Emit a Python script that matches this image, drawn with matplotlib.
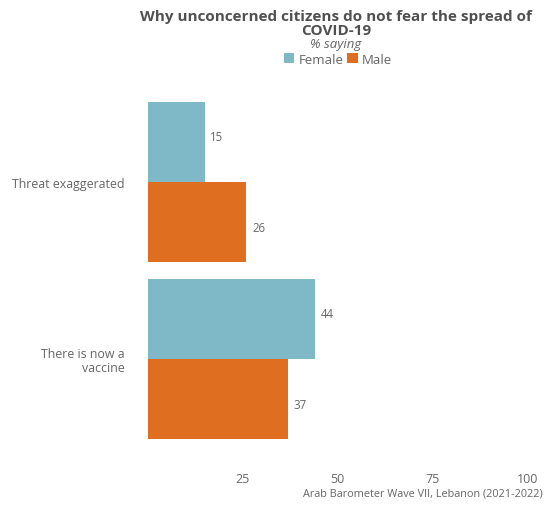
import numpy as np
import matplotlib.pyplot as plt

categories = ["Threat exaggerated", "There is now a\nvaccine"]
female = [15, 44]
male = [26, 37]
xticks = [25, 50, 75, 100]

plt.rcParams['font.family'] = ['Open Sans', 'DejaVu Sans']

W, H = 547, 506
fig = plt.figure(figsize=(W / 100, H / 100), dpi=100)

# axes placed in pixel terms (3.8 px per unit on x)
left, top, bottom = 147.5, 85, 445
xmax = 102
right = left + 3.8 * xmax
ax = fig.add_axes([left / W, 1 - bottom / H, (right - left) / W, (bottom - top) / H])

y = np.arange(len(categories))
h = 80 / 177
ax.barh(y - h / 2, female, height=h, color='#7fb9c7', label='Female')
ax.barh(y + h / 2, male, height=h, color='#e06e20', label='Male')

for yi, v in zip(y - h / 2, female):
    ax.text(v + 1.5, yi - 0.03, f"{v}", va='center', ha='left', fontsize=8.3, color='#666666')
for yi, v in zip(y + h / 2, male):
    ax.text(v + 1.5, yi + 0.03, f"{v}", va='center', ha='left', fontsize=8.3, color='#666666')

ax.set_xlim(0, xmax)
ax.set_ylim((bottom - 183) / 177, (top - 183) / 177)
ax.set_yticks(y)
ax.set_yticklabels(categories, fontsize=8.9, color='#666666', ha='right', linespacing=1.0)
ax.set_xticks(xticks)
ax.set_xticklabels([str(t) for t in xticks], fontsize=8.9, color='#666666')
ax.tick_params(axis='both', length=0)
ax.tick_params(axis='y', pad=16.5)
ax.tick_params(axis='x', pad=20)
for s in ax.spines.values():
    s.set_visible(False)

fig.text(336 / W, 1 - 10.5 / H, "Why unconcerned citizens do not fear the spread of\nCOVID-19",
         ha='center', va='top', fontsize=11, fontweight='bold', color='#505050',
         linespacing=0.95)
fig.text(336 / W, 1 - 44.5 / H, "% saying", ha='center', va='center', fontsize=9.5,
         style='italic', color='#666666')
fig.legend(loc='center', bbox_to_anchor=(338 / W, 1 - 60 / H), ncol=2, frameon=False,
           fontsize=9.5, handlelength=0.8, handleheight=0.8, handletextpad=0.3,
           columnspacing=0.3, labelcolor='#666666')
fig.text(543 / W, 1 - 494 / H, "Arab Barometer Wave VII, Lebanon (2021-2022)",
         ha='right', va='center', fontsize=7.8, color='#666666')

fig.savefig('out.png', dpi=100)
